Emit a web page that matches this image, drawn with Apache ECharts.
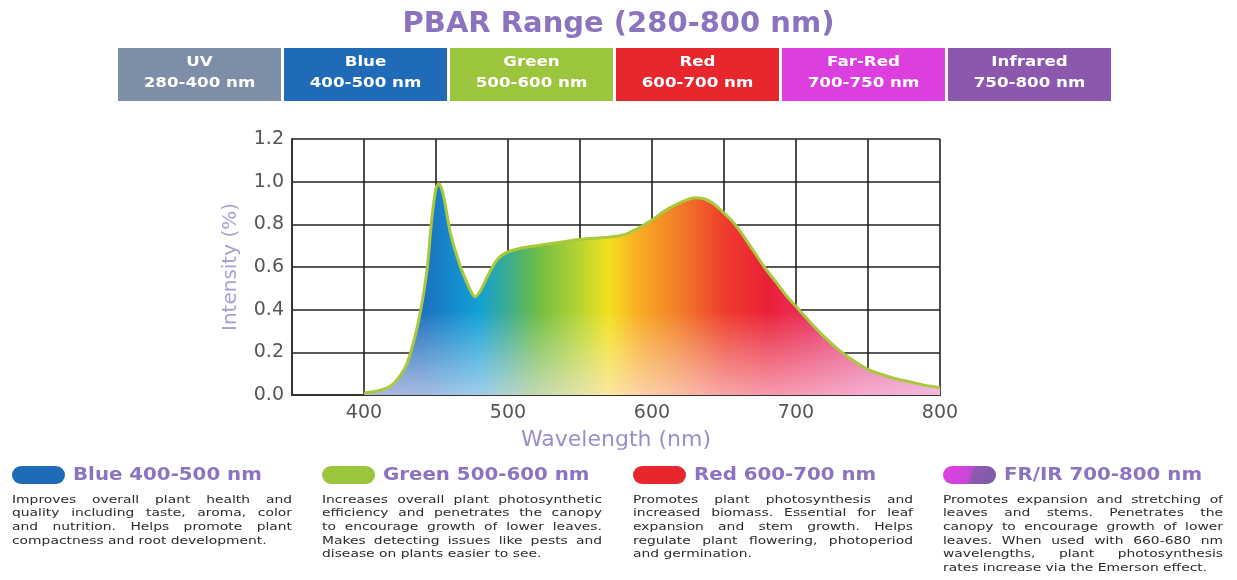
<!DOCTYPE html>
<html>
<head>
<meta charset="utf-8">
<title>PBAR Range</title>
<script src="https://cdn.jsdelivr.net/npm/echarts@6/dist/echarts.min.js"></script>
<style>
html,body{margin:0;padding:0;background:#fff;}
#main{width:1237px;height:580px;}
</style>
</head>
<body>
<div id="main"></div>
<script>
// spectrum
var wavelengths = [400, 410, 418, 424, 430, 436, 440, 444, 447, 450, 452, 455, 460, 466, 470, 474, 477, 481, 486, 492, 498, 510, 520, 530, 540, 550, 560, 570, 580, 590, 600, 608, 616, 624, 630, 636, 642, 648, 655, 662, 670, 678, 686, 694, 702, 710, 720, 730, 740, 750, 760, 770, 780, 790, 800];
var intensity   = [0.01, 0.02, 0.04, 0.08, 0.15, 0.29, 0.42, 0.60, 0.82, 0.97, 0.99, 0.94, 0.76, 0.62, 0.55, 0.49, 0.46, 0.49, 0.56, 0.63, 0.665, 0.69, 0.70, 0.71, 0.72, 0.73, 0.735, 0.74, 0.75, 0.78, 0.82, 0.86, 0.89, 0.915, 0.925, 0.92, 0.90, 0.865, 0.82, 0.76, 0.68, 0.60, 0.53, 0.46, 0.40, 0.34, 0.27, 0.21, 0.16, 0.12, 0.095, 0.075, 0.06, 0.045, 0.035];

var xTicks = [400, 500, 600, 700, 800];

// top banner
var bandNames  = ['UV', 'Blue', 'Green', 'Red', 'Far-Red', 'Infrared'];
var bandRanges = ['280-400 nm', '400-500 nm', '500-600 nm', '600-700 nm', '700-750 nm', '750-800 nm'];
var bandColors = ['#7f8ea7', '#1f6bb8', '#9bc53d', '#e8262d', '#dd3fdf', '#8c58ae'];

// bottom legend blocks
var legendTitles = ['Blue 400-500 nm', 'Green 500-600 nm', 'Red 600-700 nm', 'FR/IR 700-800 nm'];
var legendTexts = [
	['Improves overall plant health and', 'quality including taste, aroma, color', 'and nutrition. Helps promote plant', 'compactness and root development.'],
	['Increases overall plant photosynthetic', 'efficiency and penetrates the canopy', 'to encourage growth of lower leaves.', 'Makes detecting issues like pests and', 'disease on plants easier to see.'],
	['Promotes plant photosynthesis and', 'increased biomass. Essential for leaf', 'expansion and stem growth. Helps', 'regulate plant flowering, photoperiod', 'and germination.'],
	['Promotes expansion and stretching of', 'leaves and stems. Penetrates the', 'canopy to encourage growth of lower', 'leaves. When used with 660-680 nm', 'wavelengths, plant photosynthesis', 'rates increase via the Emerson effect.']
];

var FONT = 'DejaVu Sans';
var PURPLE = '#8c73c0';
var TEXT_FONT = '11px "' + FONT + '"';
var TEXT_SX = 1.26;   // the original face is much wider than DejaVu

var measureCtx = document.createElement('canvas').getContext('2d');

function buildData() {
	var d = [];
	for (var i = 0; i < wavelengths.length; i++) {
		d.push([wavelengths[i], intensity[i]]);
	}
	return d;
}

function wordText(str, x, y) {
	return {type: 'text', x: x, y: y, scaleX: TEXT_SX,
		style: {text: str, fill: '#2b2b2b', font: TEXT_FONT, verticalAlign: 'middle'}};
}

// justified paragraph: every line but the last is spread to full width
function pushParagraph(g, lines, x0, y0, width, lineH) {
	measureCtx.font = TEXT_FONT;
	for (var i = 0; i < lines.length; i++) {
		var y = y0 + i * lineH;
		var words = lines[i].split(' ');
		var natural = measureCtx.measureText(lines[i]).width * TEXT_SX;
		if (i == lines.length - 1 || words.length < 2 || natural > width) {
			g.push(wordText(lines[i], x0, y));
			continue;
		}
		var sum = 0;
		for (var k = 0; k < words.length; k++) sum += measureCtx.measureText(words[k]).width * TEXT_SX;
		var gap = (width - sum) / (words.length - 1);
		var cx = x0;
		for (var k = 0; k < words.length; k++) {
			g.push(wordText(words[k], cx, y));
			cx += measureCtx.measureText(words[k]).width * TEXT_SX + gap;
		}
	}
}

// banner boxes + legend blocks as graphic elements
function buildGraphic() {
	var g = [];
	var bx = 118, bw = 163, gap = 3;
	for (var i = 0; i < bandNames.length; i++) {
		var x = bx + i * (bw + gap);
		g.push({
			type: 'rect',
			shape: {x: x, y: 48, width: bw, height: 53},
			style: {fill: bandColors[i]}
		});
		g.push({
			type: 'text',
			x: x + bw / 2, y: 73,
			scaleX: 1.15,
			style: {
				text: bandNames[i] + '\n' + bandRanges[i],
				fill: '#fff',
				font: 'bold 14.5px "' + FONT + '"',
				align: 'center',
				verticalAlign: 'middle',
				lineHeight: 21
			}
		});
	}

	var colX = [12, 322, 633, 943];
	var pillFills = [
		'#1f6bb8',
		'#9bc53d',
		'#e8262d',
		new echarts.graphic.LinearGradient(0, 0, 1, 1, [
			{offset: 0, color: '#e03ee0'},
			{offset: 0.5, color: '#c848d8'},
			{offset: 0.55, color: '#8e5ab0'},
			{offset: 1, color: '#7e5aa8'}
		])
	];
	for (var j = 0; j < legendTitles.length; j++) {
		g.push({
			type: 'rect',
			shape: {x: colX[j], y: 466, width: 53, height: 18, r: 9},
			style: {fill: pillFills[j]}
		});
		g.push({
			type: 'text',
			x: colX[j] + 61, y: 475,
			scaleX: 1.1,
			style: {
				text: legendTitles[j],
				fill: PURPLE,
				font: 'bold 18px "' + FONT + '"',
				verticalAlign: 'middle'
			}
		});
		pushParagraph(g, legendTexts[j], colX[j], 500, 280, 13.6);
	}
	return g;
}

var dom = document.getElementById('main');
var myChart = echarts.init(dom, null, {renderer: 'canvas'});

var spectrum = new echarts.graphic.LinearGradient(0, 0, 1, 0, [
	{offset: 0, color: '#3a62b0'},
	{offset: 0.1, color: '#1f6fbd'},
	{offset: 0.15, color: '#1688cc'},
	{offset: 0.2, color: '#12a0d6'},
	{offset: 0.25, color: '#3cab90'},
	{offset: 0.3, color: '#6cbc45'},
	{offset: 0.375, color: '#b8d430'},
	{offset: 0.425, color: '#f3e11e'},
	{offset: 0.475, color: '#f8ad22'},
	{offset: 0.55, color: '#f27a28'},
	{offset: 0.625, color: '#ee3d2c'},
	{offset: 0.7, color: '#ea2038'},
	{offset: 0.775, color: '#e8305c'},
	{offset: 0.875, color: '#e5508f'},
	{offset: 1, color: '#e070b5'}
]);

var fade = new echarts.graphic.LinearGradient(0, 0, 0, 1, [
	{offset: 0, color: 'rgba(255,255,255,0)'},
	{offset: 0.6, color: 'rgba(255,255,255,0)'},
	{offset: 1, color: 'rgba(255,235,250,0.6)'}
]);

var option = {
	backgroundColor: '#fff',
	animation: false,
	title: {
		text: 'PBAR Range (280-800 nm)',
		left: 'center',
		top: 5,
		textStyle: {color: PURPLE, fontFamily: FONT, fontSize: 29, fontWeight: 'bold'}
	},
	grid: {left: 292, top: 139, width: 648, height: 256},
	xAxis: {
		type: 'value',
		min: 350,
		max: 800,
		interval: 50,
		name: 'Wavelength (nm)',
		nameLocation: 'middle',
		nameGap: 34,
		nameTextStyle: {color: '#9d8dcd', fontFamily: FONT, fontSize: 22},
		axisLine: {show: true, lineStyle: {color: '#333', width: 2}},
		axisTick: {show: false},
		axisLabel: {
			color: '#555', fontFamily: FONT, fontSize: 19, margin: 9,
			formatter: function(v) { return xTicks.indexOf(v) >= 0 ? String(v) : ''; }
		},
		splitLine: {show: true, lineStyle: {color: '#222', width: 1.6}}
	},
	yAxis: {
		type: 'value',
		min: 0,
		max: 1.2,
		interval: 0.2,
		name: 'Intensity (%)',
		nameLocation: 'middle',
		nameGap: 51,
		nameTextStyle: {color: '#ab9fd4', fontFamily: FONT, fontSize: 20},
		axisLine: {show: true, lineStyle: {color: '#333', width: 2}},
		axisTick: {show: false},
		axisLabel: {
			color: '#555', fontFamily: FONT, fontSize: 19, margin: 8,
			formatter: function(v) { return v.toFixed(1); }
		},
		splitLine: {show: true, lineStyle: {color: '#222', width: 1.6}}
	},
	series: [
		{
			type: 'line',
			data: buildData(),
			smooth: 0.25,
			symbol: 'none',
			lineStyle: {color: '#a9c93c', width: 3},
			areaStyle: {color: spectrum, opacity: 1}
		},
		{
			type: 'line',
			data: buildData(),
			smooth: 0.25,
			symbol: 'none',
			lineStyle: {width: 0},
			areaStyle: {color: fade, opacity: 1}
		}
	],
	graphic: buildGraphic()
};

myChart.setOption(option, true);
</script>
</body>
</html>
